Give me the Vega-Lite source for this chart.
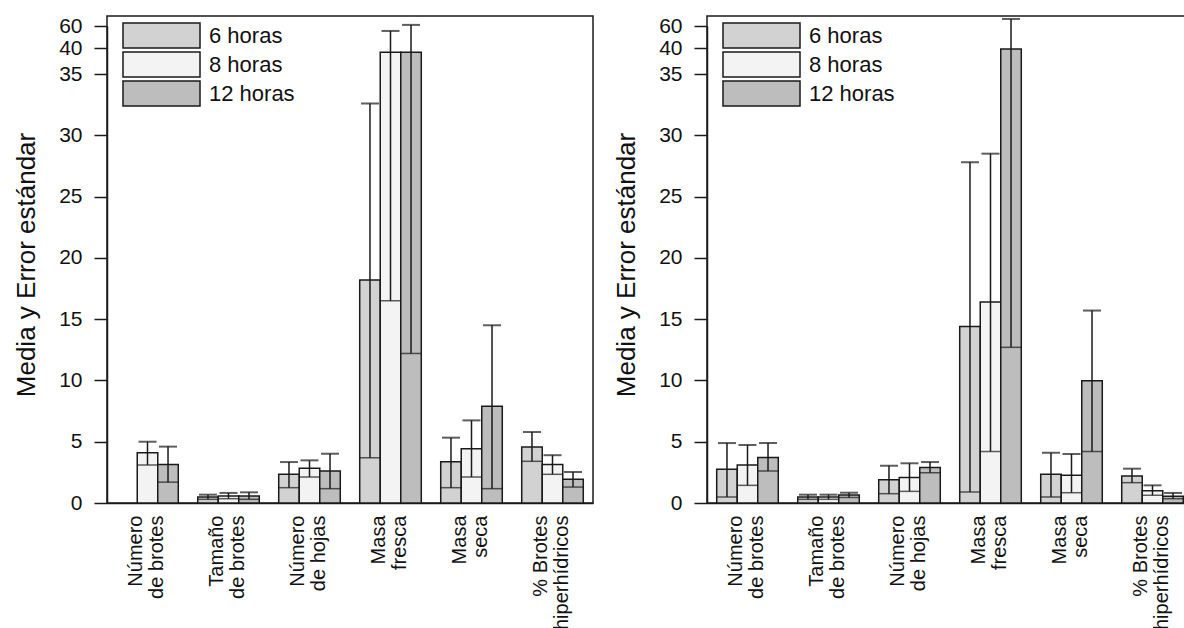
{
  "$schema": "https://vega.github.io/schema/vega-lite/v6.json",
  "padding": {"left": 12, "top": 14, "right": 0, "bottom": 0},
  "background": "white",
  "datasets": {
    "izq": [
      {"var": "Número|de brotes", "grupo": "8 horas", "media": 4.1, "lo": 3.1, "hi": 5.0},
      {"var": "Número|de brotes", "grupo": "12 horas", "media": 3.15, "lo": 1.7, "hi": 4.6},
      {"var": "Tamaño|de brotes", "grupo": "6 horas", "media": 0.49, "lo": 0.3, "hi": 0.68},
      {"var": "Tamaño|de brotes", "grupo": "8 horas", "media": 0.57, "lo": 0.35, "hi": 0.82},
      {"var": "Tamaño|de brotes", "grupo": "12 horas", "media": 0.57, "lo": 0.3, "hi": 0.87},
      {"var": "Número|de hojas", "grupo": "6 horas", "media": 2.34, "lo": 1.25, "hi": 3.34},
      {"var": "Número|de hojas", "grupo": "8 horas", "media": 2.83, "lo": 2.12, "hi": 3.48},
      {"var": "Número|de hojas", "grupo": "12 horas", "media": 2.61, "lo": 1.17, "hi": 4.02},
      {"var": "Masa|fresca", "grupo": "6 horas", "media": 18.2, "lo": 3.7, "hi": 32.6},
      {"var": "Masa|fresca", "grupo": "8 horas", "media": 39.2, "lo": 16.5, "hi": 55.5},
      {"var": "Masa|fresca", "grupo": "12 horas", "media": 39.2, "lo": 12.2, "hi": 61},
      {"var": "Masa|seca", "grupo": "6 horas", "media": 3.37, "lo": 1.25, "hi": 5.33},
      {"var": "Masa|seca", "grupo": "8 horas", "media": 4.43, "lo": 2.12, "hi": 6.74},
      {"var": "Masa|seca", "grupo": "12 horas", "media": 7.89, "lo": 1.17, "hi": 14.5},
      {"var": "% Brotes|hiperhídricos", "grupo": "6 horas", "media": 4.57, "lo": 3.4, "hi": 5.79},
      {"var": "% Brotes|hiperhídricos", "grupo": "8 horas", "media": 3.15, "lo": 2.34, "hi": 3.9},
      {"var": "% Brotes|hiperhídricos", "grupo": "12 horas", "media": 1.93, "lo": 1.3, "hi": 2.53}
    ],
    "der": [
      {"var": "Número|de brotes", "grupo": "6 horas", "media": 2.75, "lo": 0.49, "hi": 4.89},
      {"var": "Número|de brotes", "grupo": "8 horas", "media": 3.1, "lo": 1.44, "hi": 4.73},
      {"var": "Número|de brotes", "grupo": "12 horas", "media": 3.72, "lo": 2.61, "hi": 4.89},
      {"var": "Tamaño|de brotes", "grupo": "6 horas", "media": 0.49, "lo": 0.3, "hi": 0.68},
      {"var": "Tamaño|de brotes", "grupo": "8 horas", "media": 0.49, "lo": 0.3, "hi": 0.68},
      {"var": "Tamaño|de brotes", "grupo": "12 horas", "media": 0.65, "lo": 0.45, "hi": 0.84},
      {"var": "Número|de hojas", "grupo": "6 horas", "media": 1.9, "lo": 0.76, "hi": 3.04},
      {"var": "Número|de hojas", "grupo": "8 horas", "media": 2.09, "lo": 0.95, "hi": 3.24},
      {"var": "Número|de hojas", "grupo": "12 horas", "media": 2.9, "lo": 2.47, "hi": 3.34},
      {"var": "Masa|fresca", "grupo": "6 horas", "media": 14.4, "lo": 0.9, "hi": 27.8},
      {"var": "Masa|fresca", "grupo": "8 horas", "media": 16.4, "lo": 4.2, "hi": 28.5},
      {"var": "Masa|fresca", "grupo": "12 horas", "media": 39.8, "lo": 12.7, "hi": 66.4},
      {"var": "Masa|seca", "grupo": "6 horas", "media": 2.34, "lo": 0.49, "hi": 4.1},
      {"var": "Masa|seca", "grupo": "8 horas", "media": 2.26, "lo": 0.84, "hi": 4.0},
      {"var": "Masa|seca", "grupo": "12 horas", "media": 9.98, "lo": 4.2, "hi": 15.7},
      {"var": "% Brotes|hiperhídricos", "grupo": "6 horas", "media": 2.2, "lo": 1.66, "hi": 2.8},
      {"var": "% Brotes|hiperhídricos", "grupo": "8 horas", "media": 1.0, "lo": 0.63, "hi": 1.44},
      {"var": "% Brotes|hiperhídricos", "grupo": "12 horas", "media": 0.55, "lo": 0.35, "hi": 0.82}
    ]
  },
  "spacing": 18,
  "resolve": {"scale": {"fill": "independent", "y": "independent", "x": "independent"}, "legend": {"fill": "independent"}},
  "hconcat": [
    {
      "width": 486, "height": 487,
      "data": {"name": "izq"},
      "encoding": {
        "x": {"field": "var", "type": "nominal", "sort": ["Número|de brotes", "Tamaño|de brotes", "Número|de hojas", "Masa|fresca", "Masa|seca", "% Brotes|hiperhídricos"], "scale": {"paddingInner": 0.24, "paddingOuter": 0.12}, "axis": {"title": null, "labelExpr": "split(datum.value, '|')"}},
        "xOffset": {"field": "grupo", "type": "nominal", "sort": ["6 horas", "8 horas", "12 horas"]}
      },
      "layer": [
        {
          "mark": {"type": "bar", "stroke": "#1a1a1a", "strokeWidth": 1.5},
          "encoding": {
            "y": {"field": "media", "type": "quantitative", "scale": {"domain": [0, 35, 40, 60], "range": [487, 58, 32, 10], "nice": false, "zero": false}, "axis": {"title": "Media y Error estándar", "values": [0, 5, 10, 15, 20, 25, 30, 35, 40, 60]}},
            "fill": {"field": "grupo", "type": "nominal", "scale": {"domain": ["6 horas", "8 horas", "12 horas"], "range": ["#d2d2d2", "#f3f3f3", "#bdbdbd"]}, "legend": {"title": null, "orient": "none", "legendX": 41, "legendY": 6}}
          }
        },
        {
          "mark": {"type": "rule", "color": "#1a1a1a", "strokeWidth": 1.5},
          "encoding": {"y": {"field": "lo", "type": "quantitative"}, "y2": {"field": "hi"}}
        },
        {
          "mark": {"type": "tick", "color": "#1a1a1a", "thickness": 2, "size": 18},
          "encoding": {"y": {"field": "hi", "type": "quantitative"}}
        },
        {
          "mark": {"type": "tick", "color": "#1a1a1a", "thickness": 1.5, "size": 20},
          "encoding": {"y": {"field": "lo", "type": "quantitative"}}
        }
      ]
    },
    {
      "width": 486, "height": 487,
      "data": {"name": "der"},
      "encoding": {
        "x": {"field": "var", "type": "nominal", "sort": ["Número|de brotes", "Tamaño|de brotes", "Número|de hojas", "Masa|fresca", "Masa|seca", "% Brotes|hiperhídricos"], "scale": {"paddingInner": 0.24, "paddingOuter": 0.12}, "axis": {"title": null, "labelExpr": "split(datum.value, '|')"}},
        "xOffset": {"field": "grupo", "type": "nominal", "sort": ["6 horas", "8 horas", "12 horas"]}
      },
      "layer": [
        {
          "mark": {"type": "bar", "stroke": "#1a1a1a", "strokeWidth": 1.5},
          "encoding": {
            "y": {"field": "media", "type": "quantitative", "scale": {"domain": [0, 35, 40, 60], "range": [487, 58, 32, 10], "nice": false, "zero": false}, "axis": {"title": "Media y Error estándar", "values": [0, 5, 10, 15, 20, 25, 30, 35, 40, 60]}},
            "fill": {"field": "grupo", "type": "nominal", "scale": {"domain": ["6 horas", "8 horas", "12 horas"], "range": ["#d2d2d2", "#f3f3f3", "#bdbdbd"]}, "legend": {"title": null, "orient": "none", "legendX": 41, "legendY": 6}}
          }
        },
        {
          "mark": {"type": "rule", "color": "#1a1a1a", "strokeWidth": 1.5},
          "encoding": {"y": {"field": "lo", "type": "quantitative"}, "y2": {"field": "hi"}}
        },
        {
          "mark": {"type": "tick", "color": "#1a1a1a", "thickness": 2, "size": 18},
          "encoding": {"y": {"field": "hi", "type": "quantitative"}}
        },
        {
          "mark": {"type": "tick", "color": "#1a1a1a", "thickness": 1.5, "size": 20},
          "encoding": {"y": {"field": "lo", "type": "quantitative"}}
        }
      ]
    }
  ],
  "config": {
    "font": "Liberation Sans",
    "view": {"stroke": "#1a1a1a", "strokeWidth": 1.5},
    "axis": {"grid": false, "domainColor": "#1a1a1a", "domainWidth": 1.5, "tickColor": "#1a1a1a", "tickWidth": 1.5, "labelColor": "#111", "titleColor": "#111", "labelFont": "Liberation Sans", "titleFont": "Liberation Sans"},
    "axisY": {"tickSize": 13, "labelFontSize": 21, "labelPadding": 12, "titleFontSize": 26, "titleFontWeight": "normal", "titlePadding": 19},
    "axisX": {"ticks": false, "labelAngle": -90, "labelAlign": "right", "labelBaseline": "middle", "labelFontSize": 20, "labelLineHeight": 21, "labelPadding": 12, "labelOffset": -12},
    "legend": {"padding": 0, "symbolType": "M-3.08,-1H3.08V1H-3.08Z", "symbolSize": 625, "symbolStrokeColor": "#1a1a1a", "symbolStrokeWidth": 1.5, "labelFontSize": 22, "labelFont": "Liberation Sans", "labelColor": "#111", "labelOffset": 34, "rowPadding": -2}
  }
}
